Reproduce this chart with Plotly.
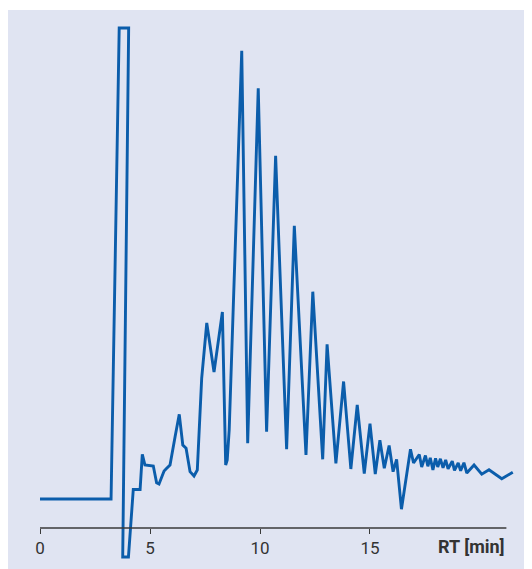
import plotly.graph_objects as go

# Retention time (min) and detector signal (arbitrary units)
rt_min = [0.0, 3.23, 3.60, 4.03, 3.76, 4.02, 4.24, 4.55, 4.65, 4.77, 5.15, 5.30, 5.41,
          5.64, 5.76, 5.91, 6.14, 6.33, 6.49, 6.64, 6.82, 7.00, 7.15, 7.35, 7.58, 7.91,
          8.29, 8.38, 8.44, 8.51, 8.60, 9.17, 9.44, 9.92, 10.30, 10.71, 11.21, 11.56,
          12.09, 12.40, 12.85, 13.05, 13.45, 13.80, 14.13, 14.42, 14.74, 15.00, 15.24,
          15.45, 15.65, 15.87, 16.05, 16.21, 16.43, 16.84, 16.98, 17.24, 17.35, 17.52,
          17.63, 17.74, 17.86, 17.98, 18.08, 18.20, 18.32, 18.44, 18.55, 18.74, 18.84,
          19.01, 19.12, 19.27, 19.40, 19.73, 20.08, 20.41, 20.99, 21.49]
signal = [0, 0, 471, 471, -58, -58, 9.5, 9.5, 44.7, 34, 33, 16.3, 15,
          28, 30.7, 34, 62.3, 84.7, 54, 50.7, 27.3, 23, 29, 121, 176, 127,
          187, 69, 34, 39, 69, 448.3, 55.7, 410.7, 67.3, 343.3, 49.7, 273.3,
          44, 207.3, 39.7, 154.7, 35.7, 117.5, 30, 94, 25.5, 75.3, 25,
          58.7, 30.7, 53.5, 27.3, 39.7, -10.2, 49.7, 36, 44.5, 32, 43.5,
          32.7, 41.2, 29, 40.7, 32, 40.2, 31.2, 39, 30.2, 37.8, 28.7,
          36, 28.3, 36.3, 26, 34, 24.8, 29.3, 20.3, 26.7]

tick_vals = [0, 5, 10, 15]
tick_text = ["0", "5", "10", "15"]
axis_label = "RT [min]"

line_color = "#0b5dab"
bg_color = "#e0e4f2"
axis_color = "#3a3a3a"
font_family = "Liberation Sans Narrow, Roboto, Arial"

axis_level = -29
axis_end = 21.2

fig = go.Figure()
fig.add_trace(go.Scatter(x=rt_min, y=signal, mode="lines",
                         line=dict(color=line_color, width=2.9),
                         hoverinfo="skip", showlegend=False))

fig.add_shape(type="line", xref="x", yref="y", x0=0, x1=axis_end,
              y0=axis_level, y1=axis_level,
              line=dict(color=axis_color, width=1.4), layer="above")

fig.add_annotation(x=axis_end + 0.02, y=-47, xref="x", yref="y", text="<b>" + axis_label + "</b>",
                   showarrow=False, xanchor="right", yanchor="middle",
                   font=dict(family=font_family, size=18, color="#333333"))

fig.update_layout(
    width=524, height=561,
    margin=dict(l=0, r=0, t=2, b=0),
    paper_bgcolor="white",
    plot_bgcolor=bg_color,
    xaxis=dict(range=[-1.4545, 22.364], showgrid=False, zeroline=False, showline=False,
               tickmode="array", tickvals=tick_vals, ticktext=tick_text,
               ticks="outside", ticklen=5, tickwidth=1.4, tickcolor=axis_color,
               anchor="free", position=0.0733,
               tickfont=dict(family=font_family, size=17, color="#333333")),
    yaxis=dict(range=[-70, 489], visible=False, showgrid=False, zeroline=False),
)

fig.write_html("out.html")
